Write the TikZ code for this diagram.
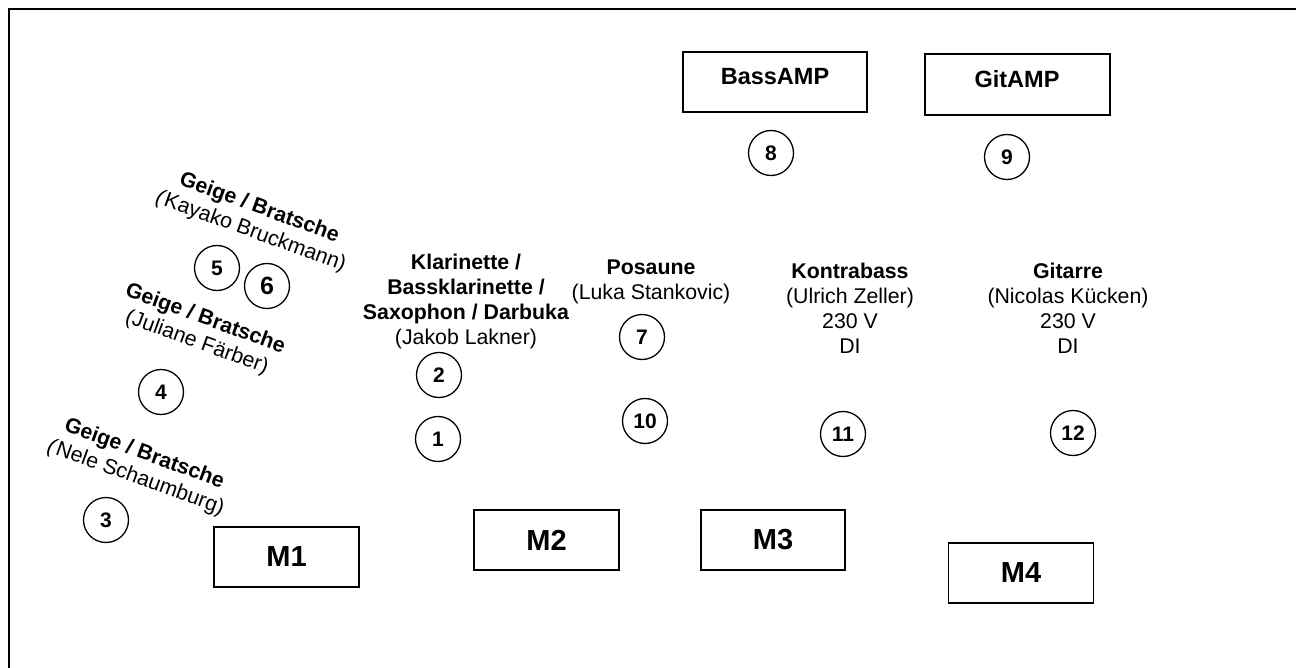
\documentclass[tikz,border=0pt]{standalone}
\usepackage{fontspec}
\setmainfont{Liberation Sans}
\begin{document}
\begin{tikzpicture}[x=1pt,y=-1pt,
  lbl/.style={align=center,inner sep=0pt,font=\fontsize{21.3}{25}\selectfont},
  num/.style={circle,draw,line width=1.3pt,minimum size=45pt,inner sep=0pt,font=\fontsize{21}{24}\selectfont\bfseries},
  amp/.style={draw,line width=1.6pt,inner sep=0pt},
  mic/.style={draw,line width=1.8pt,inner sep=0pt},
  mtxt/.style={inner sep=0pt,font=\fontsize{29}{34}\selectfont\bfseries},
  atxt/.style={inner sep=0pt,font=\fontsize{23.5}{28}\selectfont\bfseries}]
\useasboundingbox (0,0) rectangle (1296,668);
% frame
\coordinate (ftr) at (1296,9);
\coordinate (ftl) at (9,9);
\coordinate (fbl) at (9,668);
\draw[line width=2pt] (ftr) -- (ftl) -- (fbl);
% amplifiers
\node[amp,minimum width=184pt,minimum height=60pt] (bassamp) at (775,82) {};
\node[atxt] (bassampt) at (775,77) {BassAMP};
\node[amp,minimum width=185pt,minimum height=61pt] (gitamp) at (1017.5,84.5) {};
\node[atxt] (gitampt) at (1017,79) {GitAMP};
% microphones
\node[mic,minimum width=145pt,minimum height=60pt] (m1) at (286.5,557) {};
\node[mtxt] (m1t) at (286.5,557) {M1};
\node[mic,minimum width=145pt,minimum height=60pt] (m2) at (546.5,540) {};
\node[mtxt] (m2t) at (546.5,540) {M2};
\node[mic,minimum width=144pt,minimum height=60pt] (m3) at (773,540) {};
\node[mtxt] (m3t) at (773,540) {M3};
\node[mic,minimum width=145pt,minimum height=60pt] (m4) at (1021,573) {};
\node[mtxt] (m4t) at (1021,573) {M4};
% numbered positions
\node[num] (c1) at (438,439) {1};
\node[num] (c2) at (439,375) {2};
\node[num] (c3) at (106,520) {3};
\node[num] (c4) at (161,392) {4};
\node[num] (c5) at (217,268) {5};
\node[num,font=\fontsize{25}{28}\selectfont\bfseries] (c6) at (267,286) {6};
\node[num] (c7) at (642,337) {7};
\node[num] (c8) at (771,153) {8};
\node[num] (c9) at (1007,157) {9};
\node[num] (c10) at (645,421) {10};
\node[num] (c11) at (843,434) {11};
\node[num] (c12) at (1073,433) {12};
% labels
\node[lbl] (klar) at (466,301) {\textbf{Klarinette /}\\\textbf{Bassklarinette /}\\\textbf{Saxophon / Darbuka}\\(Jakob Lakner)};
\node[lbl] (posaune) at (651,282) {\textbf{Posaune}\\(Luka Stankovic)};
\node[lbl] (kontra) at (850,308) {\textbf{Kontrabass}\\(Ulrich Zeller)\\230 V\\DI};
\node[lbl] (gitarre) at (1068,308) {\textbf{Gitarre}\\(Nicolas Kücken)\\230 V\\DI};
\node[lbl,rotate=-20] (geige56) at (255,220) {\textbf{Geige / Bratsche}\\\textit{(}Kayako Bruckmann)};
\node[lbl,rotate=-20] (geige4) at (201,331) {\textbf{Geige / Bratsche}\\(Juliane Färber)};
\node[lbl,rotate=-20] (geige3) at (140,466) {\textbf{Geige / Bratsche}\\\textit{(}Nele Schaumburg)};
\end{tikzpicture}
\end{document}
